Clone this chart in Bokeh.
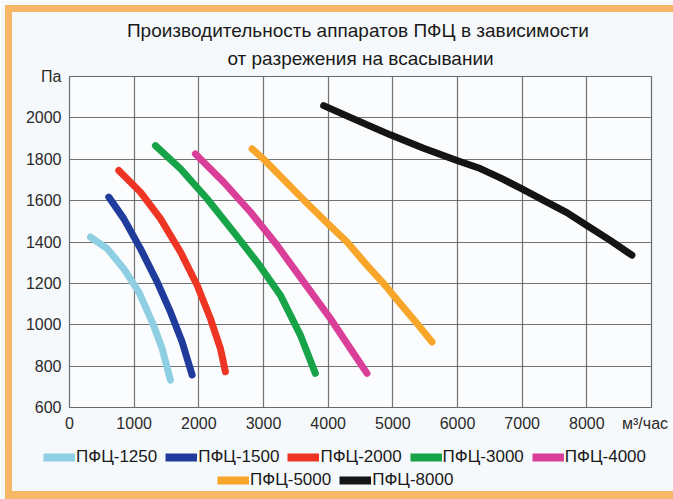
from bokeh.plotting import figure
from bokeh.models import (Range1d, FixedTicker, Legend, LegendItem, Title,
                          InlineStyleSheet)
from bokeh.embed import file_html
from bokeh.resources import INLINE

# ---- data ----
title_line1 = "Производительность аппаратов ПФЦ  в зависимости"
title_line2 = "от разрежения на всасывании"
y_unit = "Па"
x_unit = "м³/час"

x_ticks = [0, 1000, 2000, 3000, 4000, 5000, 6000, 7000, 8000]
y_ticks = [600, 800, 1000, 1200, 1400, 1600, 1800, 2000]

names = ["ПФЦ-1250", "ПФЦ-1500", "ПФЦ-2000", "ПФЦ-3000",
         "ПФЦ-4000", "ПФЦ-5000", "ПФЦ-8000"]
colors = ["#8fcfe4", "#1f3c9c", "#ee3524", "#17a448",
          "#d93f98", "#f7a62a", "#141414"]

q1250 = [325, 583, 839, 1071, 1278, 1433, 1561]
p1250 = [1424, 1368, 1271, 1159, 1014, 885, 732]

q1500 = [607, 839, 1097, 1355, 1561, 1742, 1896]
p1500 = [1617, 1513, 1368, 1207, 1062, 917, 757]

q2000 = [762, 1097, 1406, 1716, 1974, 2179, 2334, 2411]
p2000 = [1746, 1641, 1513, 1352, 1191, 1030, 885, 773]

q3000 = [1329, 1716, 2128, 2539, 2901, 3261, 3570, 3802]
p3000 = [1866, 1754, 1609, 1448, 1303, 1143, 950, 765]

q4000 = [1947, 2385, 2798, 3210, 3621, 4034, 4343, 4601]
p4000 = [1826, 1689, 1545, 1384, 1207, 1030, 885, 765]

q5000 = [2824, 3003, 3632, 3992, 4292, 4601, 4858, 5116, 5374, 5606]
p5000 = [1850, 1800, 1600, 1489, 1400, 1287, 1199, 1102, 1006, 917]

q8000 = [3930, 4447, 4961, 5476, 5992, 6352, 6662, 6997, 7383, 7692,
         8001, 8362, 8697]
p8000 = [2059, 1988, 1918, 1853, 1794, 1755, 1710, 1657, 1593, 1542,
         1480, 1408, 1336]

series_q = [q1250, q1500, q2000, q3000, q4000, q5000, q8000]
series_p = [p1250, p1500, p2000, p3000, p4000, p5000, p8000]

FONT = "Liberation Sans"
ORANGE = "#f6b866"
BG = "#f6f9fb"
NAN = float("nan")

# ---------------- main chart ----------------
p = figure(width=673, height=440, frame_width=582, frame_height=331,
           x_range=Range1d(0, 9000), y_range=Range1d(600, 2200),
           output_backend="svg", toolbar_location=None,
           min_border_left=69, min_border_right=22,
           min_border_top=76, min_border_bottom=33)

p.background_fill_color = "#fbfcfd"
p.border_fill_color = BG
p.outline_line_color = "#6a6a6a"
p.outline_line_width = 1.2

p.stylesheets = [InlineStyleSheet(css=f"""
:host::after {{
  content: ""; position: absolute;
  left: 5px; top: 5px; right: 0px; bottom: 0px;
  border-left: 7px solid {ORANGE}; border-top: 7px solid {ORANGE};
  pointer-events: none; z-index: 10;
}}
""")]

for ax in (p.xaxis[0], p.yaxis[0]):
    ax.axis_line_color = None
    ax.major_tick_line_color = None
    ax.minor_tick_line_color = None
    ax.major_label_text_font = FONT
    ax.major_label_text_font_size = "16px"
    ax.major_label_text_color = "#2a2a2a"

# unit names written as labels of extra ticks at the axis ends
p.xaxis.ticker = FixedTicker(ticks=x_ticks + [8900])
p.xaxis.major_label_overrides = {8900: x_unit}
p.yaxis.ticker = FixedTicker(ticks=y_ticks + [2200])
p.yaxis.major_label_overrides = {2200: y_unit}
p.xaxis.major_label_standoff = 1
p.yaxis.major_label_standoff = 2

p.xgrid.ticker = FixedTicker(ticks=x_ticks)
p.ygrid.ticker = FixedTicker(ticks=y_ticks)
for g in (p.xgrid[0], p.ygrid[0]):
    g.grid_line_color = "#5a5a5a"
    g.grid_line_width = 1.2
    g.grid_line_alpha = 0.85

for q, pr, c in zip(series_q, series_p, colors):
    p.line(q, pr, line_color=c, line_width=7, line_cap="round",
           line_join="round")

# two title lines
p.add_layout(Title(text=title_line2, align="center", standoff=15,
                   text_font=FONT, text_font_size="19px",
                   text_font_style="normal", text_color="#1a1a1a"), "above")
p.add_layout(Title(text=title_line1, align="center", standoff=-4,
                   text_font=FONT, text_font_size="19px",
                   text_font_style="normal", text_color="#1a1a1a"), "above")

# ---------------- legend strip ----------------
lg_fig = figure(width=673, height=59, x_range=Range1d(0, 1),
                y_range=Range1d(0, 1), output_backend="svg",
                toolbar_location=None, x_axis_location=None,
                y_axis_location=None, min_border=0)
lg_fig.grid.visible = False
lg_fig.outline_line_color = None
lg_fig.background_fill_color = BG
lg_fig.border_fill_color = BG
lg_fig.stylesheets = [InlineStyleSheet(css=f"""
:host::after {{
  content: ""; position: absolute;
  left: 5px; top: 0px; right: 0px; bottom: 0px;
  border-left: 7px solid {ORANGE}; border-bottom: 8px solid {ORANGE};
  pointer-events: none; z-index: 10;
}}
""")]

# key renderers: carry only the style for the legend swatches
key_renderers = [lg_fig.line([NAN], [NAN], line_color=c, line_width=8)
                 for c in colors]

row1 = Legend(items=[LegendItem(label=n, renderers=[r])
                     for n, r in zip(names[:5], key_renderers[:5])],
              orientation="horizontal", location=(43, 32))
row2 = Legend(items=[LegendItem(label=n, renderers=[r])
                     for n, r in zip(names[5:], key_renderers[5:])],
              orientation="horizontal", location=(217, 9))
for lg in (row1, row2):
    lg.background_fill_alpha = 0
    lg.border_line_color = None
    lg.padding = 0
    lg.margin = 0
    lg.spacing = 8
    lg.glyph_width = 32
    lg.glyph_height = 20
    lg.label_standoff = 1
    lg.label_height = 20
    lg.label_text_font = FONT
    lg.label_text_font_size = "17px"
    lg.label_text_color = "#1a1a1a"
    lg.label_text_baseline = "middle"
    lg_fig.add_layout(lg, "center")

open("out.html", "w").write(file_html([p, lg_fig], INLINE))
